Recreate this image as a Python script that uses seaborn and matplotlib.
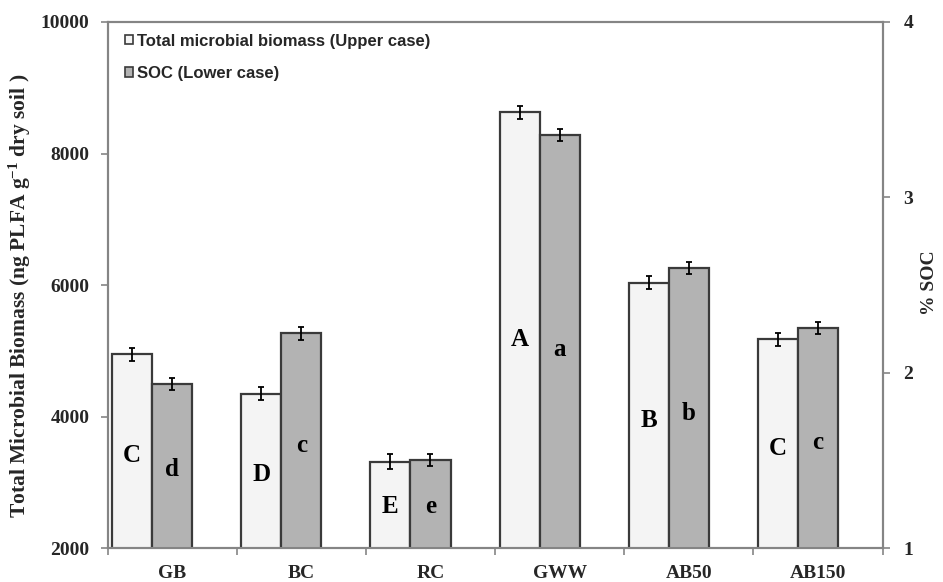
import numpy as np
import pandas as pd
import matplotlib
matplotlib.use("Agg")
import matplotlib.pyplot as plt
import seaborn as sns
from matplotlib.patches import Patch

categories = ["GB", "BC", "RC", "GWW", "AB50", "AB150"]
biomass = [4950, 4350, 3320, 8630, 6035, 5175]
biomass_err = [100, 100, 110, 100, 100, 100]
soc = [1.936, 2.225, 1.503, 3.357, 2.600, 2.257]
soc_err = [0.035, 0.035, 0.035, 0.035, 0.035, 0.035]
biomass_letters = ["C", "D", "E", "A", "B", "C"]
soc_letters = ["d", "c", "e", "a", "b", "c"]
left_ticks = [2000, 4000, 6000, 8000, 10000]
right_ticks = [1, 2, 3, 4]
legend_labels = ["Total microbial biomass (Upper case)", "SOC (Lower case)"]

sns.set_theme(style="white")
plt.rcParams["font.family"] = ["Liberation Serif", "DejaVu Serif"]
plt.rcParams["font.weight"] = "bold"
plt.rcParams["mathtext.fontset"] = "custom"
plt.rcParams["mathtext.rm"] = "Liberation Serif:bold"
plt.rcParams["mathtext.it"] = "Liberation Serif:bold"
plt.rcParams["mathtext.bf"] = "Liberation Serif:bold"
plt.rcParams["mathtext.default"] = "rm"

WHITE = "#f4f4f4"
GRAY = "#b3b3b3"
EDGE = "#3a3a3a"
SPINE = "#858585"

W, H = 943, 582
fig = plt.figure(figsize=(W / 100, H / 100), dpi=100)
ax = fig.add_axes([0.114, 0.0577, 0.822, 0.9045])
ax2 = ax.twinx()

pos = np.arange(len(categories))
bw = 0.31
df = pd.DataFrame({"cat": categories, "pos": pos, "biomass": biomass, "soc": soc})

sns.barplot(x=df["pos"] - bw, y=df["biomass"], ax=ax, native_scale=True, width=bw,
            color=WHITE, edgecolor=EDGE, linewidth=1.6, errorbar=None, saturation=1)
sns.barplot(x=df["pos"], y=df["soc"], ax=ax2, native_scale=True, width=bw,
            color=GRAY, edgecolor=EDGE, linewidth=1.6, errorbar=None, saturation=1)

ax.errorbar(pos - bw, biomass, yerr=biomass_err, fmt="none", ecolor="black",
            elinewidth=1.3, capsize=2.5, capthick=1.3, zorder=5)
ax2.errorbar(pos, soc, yerr=soc_err, fmt="none", ecolor="black",
             elinewidth=1.3, capsize=2.5, capthick=1.3, zorder=5)

ax.set_ylim(2000, 10000)
ax2.set_ylim(1, 4)
ax.set_xlim(-0.5, len(categories) - 0.5)

for i in range(len(categories)):
    yb = 2000 + 0.48 * (biomass[i] - 2000)
    ax.text(pos[i] - bw, yb, biomass_letters[i], ha="center", va="center",
            fontsize=18, fontweight="bold", color="black", zorder=6)
    ys = 1 + 0.48 * (soc[i] - 1)
    ax2.text(pos[i], ys, soc_letters[i], ha="center", va="center",
             fontsize=18, fontweight="bold", color="black", zorder=6)

# x axis
ax.set_xticks(pos)
ax.set_xticklabels(categories, fontsize=14, fontweight="bold")
ax.set_xticks(np.arange(-0.5, len(categories)), minor=True)
ax.tick_params(axis="x", which="major", length=0, pad=12)
ax.tick_params(axis="x", which="minor", length=5, width=1.2, color=SPINE, direction="out", bottom=True)
ax.set_xlabel("")

ax.set_yticks(left_ticks)
ax.set_yticklabels([str(t) for t in left_ticks], fontsize=14, fontweight="bold")
ax.tick_params(axis="y", which="major", length=5, width=1.2, color=SPINE, direction="out", left=True, pad=8)
ax.set_ylabel("")

ax2.set_yticks(right_ticks)
ax2.set_yticklabels([str(t) for t in right_ticks], fontsize=14, fontweight="bold")
ax2.tick_params(axis="y", which="major", length=5, width=1.2, color=SPINE, direction="out", right=True, pad=10)
ax2.set_ylabel("")
ax2.set_xlabel("")

fig.text(20 / W, 1 - 296 / H, r"Total Microbial Biomass (ng PLFA g$^{-1}$ dry soil )",
         rotation=90, ha="center", va="center", fontsize=15.5, fontweight="bold")
fig.text(930 / W, 1 - 283 / H, "% SOC", rotation=90, ha="center", va="center",
         fontsize=14, fontweight="bold")

for a in (ax, ax2):
    a.grid(False)
    for s in a.spines.values():
        s.set_visible(True)
        s.set_color(SPINE)
        s.set_linewidth(1.5)

handles = [Patch(facecolor=WHITE, edgecolor=EDGE, linewidth=1.2),
           Patch(facecolor=GRAY, edgecolor=EDGE, linewidth=1.2)]
leg = ax2.legend(handles, legend_labels, loc="upper left", bbox_to_anchor=(0.022, 0.978),
                 frameon=False, borderpad=0, borderaxespad=0, handlelength=0.5, handleheight=0.5,
                 handletextpad=0.25, labelspacing=1.05,
                 prop={"family": "Liberation Sans", "weight": "bold", "size": 12})

fig.savefig("out.png", dpi=100)
